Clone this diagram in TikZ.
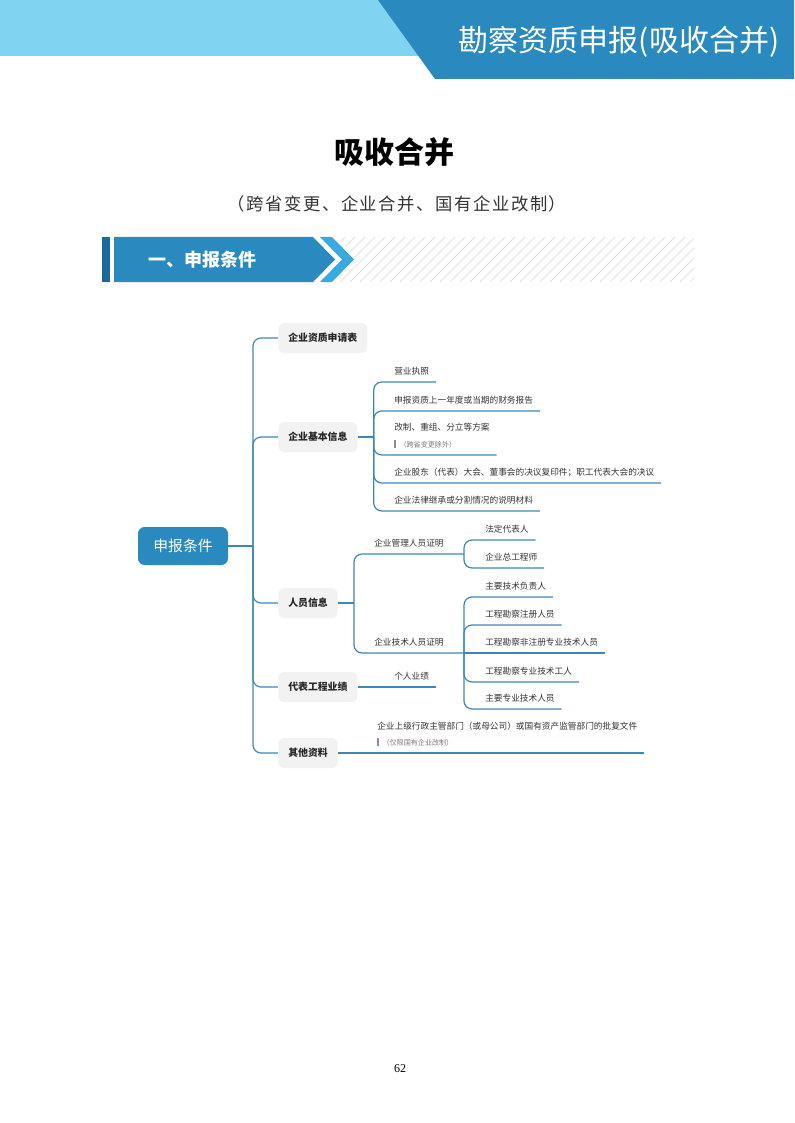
\documentclass[tikz,border=0pt]{standalone}
\usepackage{fontspec}
\setmainfont{Noto Sans CJK SC}
\newfontfamily\numfont{Liberation Serif}
\usetikzlibrary{positioning}
\definecolor{headlight}{HTML}{80D4F1}
\definecolor{headdark}{HTML}{2A8AC0}
\definecolor{barblue}{HTML}{1D6A9A}
\definecolor{chevblue}{HTML}{39AADF}
\definecolor{hatchgray}{HTML}{E2E2E2}
\definecolor{linkblue}{HTML}{3D87B8}
\definecolor{topicgray}{HTML}{F2F2F2}
\definecolor{notebar}{HTML}{8A8AB8}
\definecolor{notegray}{HTML}{7A7A7A}
\newcommand{\notetext}[1]{{\fontsize{5.3pt}{6pt}\selectfont\textcolor{notebar}{\rule[-1pt]{1pt}{6.5pt}}\hspace{3pt}\textcolor{notegray}{#1}}}

\begin{document}
\begin{tikzpicture}[x=0.75pt,y=-0.75pt,
    root node/.style={rounded corners=5pt,fill=headdark,text=white,font=\fontsize{11.1pt}{13pt}\selectfont,minimum width=67.5pt,minimum height=28.5pt},
    main node/.style={anchor=west,rounded corners=4.5pt,fill=topicgray,font=\bfseries\fontsize{7.4pt}{9pt}\selectfont,minimum height=22.5pt,inner xsep=7.5pt,text=black!85},
    leaf node/.style={anchor=south west,inner xsep=0pt,inner ysep=5.8pt,text depth=0pt,align=left,font=\fontsize{6.5pt}{8.8pt}\selectfont,text=black!80},
    link/.style={draw=linkblue,line width=0.9pt,rounded corners=6pt}]
  \useasboundingbox (0,0) rectangle (794,1123);
  % page header
  \fill[headlight] (0,0) rectangle (420,56);
  \fill[headdark] (378,0) -- (794,0) -- (794,79) -- (435,79) -- cycle;
  \node[text=white,font=\fontsize{22.5pt}{26pt}\selectfont] (head) at (619,42) {勘察资质申报(吸收合并)};
  \node[font=\bfseries\fontsize{22.5pt}{26pt}\selectfont] (title) at (394,152) {吸收合并};
  \node[font=\fontsize{13pt}{16pt}\selectfont\addfontfeature{LetterSpace=9},text=black!80] (subtitle) at (397,204) {（跨省变更、企业合并、国有企业改制）};
  % section banner
  \fill[barblue] (102,237) rectangle (110,282);
  \fill[headdark] (114,237) -- (313,237) -- (335,259.5) -- (313,282) -- (114,282) -- cycle;
  \fill[chevblue] (320,237) -- (332,237) -- (354,259.5) -- (332,282) -- (320,282) -- (342,259.5) -- cycle;
  \begin{scope}
    \clip (336,237) -- (694,237) -- (694,282) -- (336,282) -- (358,259.5) -- cycle;
    \foreach \i in {0,...,42}
      \draw[hatchgray,line width=0.75pt] (290+10*\i,282) -- ++(45,-45);
  \end{scope}
  \node[text=white,font=\bfseries\fontsize{13.5pt}{16pt}\selectfont,anchor=west] (sec) at (144,259.5) {一、申报条件};
  % mind map
  \node[root node] (root) at (183,546) {申报条件};
  \coordinate (spine) at (253,546);
  \node[main node] (t1) at (278,338) {企业资质申请表};
  \node[main node] (t2) at (278,437) {企业基本信息};
  \node[main node] (t3) at (278,603) {人员信息};
  \node[main node] (t4) at (278,687) {代表工程业绩};
  \node[main node] (t5) at (278,753) {其他资料};
  \coordinate[right=12pt of t2.east] (h2);
  \coordinate[right=12pt of t3.east] (h3);

  \node[leaf node] (a1) at (394,382) {营业执照};
  \node[leaf node] (a2) at (394,411) {申报资质上一年度或当期的财务报告};
  \node[leaf node] (a3) at (394,455) {改制、重组、分立等方案\\[3.5pt]\notetext{（跨省变更除外）}};
  \node[leaf node] (a4) at (394,483) {企业股东（代表）大会、董事会的决议复印件；职工代表大会的决议};
  \node[leaf node] (a5) at (394,511) {企业法律继承或分割情况的说明材料};

  \node[leaf node] (m1) at (374,554) {企业管理人员证明};
  \node[leaf node] (m2) at (374,653) {企业技术人员证明};
  \coordinate (h31) at (464,554);
  \coordinate (h32) at (464,653);
  \node[leaf node] (c1) at (485,540) {法定代表人};
  \node[leaf node] (c2) at (485,568) {企业总工程师};
  \node[leaf node] (c3) at (485,597) {主要技术负责人};
  \node[leaf node] (c4) at (485,625) {工程勘察注册人员};
  \node[leaf node] (c5) at (485,653) {工程勘察非注册专业技术人员};
  \node[leaf node] (c6) at (485,682) {工程勘察专业技术工人};
  \node[leaf node] (c7) at (485,709) {主要专业技术人员};

  \node[leaf node] (d1) at (394,687) {个人业绩};
  \node[leaf node] (e1) at (377,753) {企业上级行政主管部门（或母公司）或国有资产监管部门的批复文件\\[2.5pt]\notetext{（仅限国有企业改制）}};

  \draw[link] (root) -- (spine);
  \foreach \t in {t1,t2,t3,t4,t5}
    \draw[link] (spine) |- (\t.west);
  \draw[link] (t2) -- (h2);
  \draw[link] (t3) -- (h3);
  \foreach \l in {a1,a2,a3,a4,a5}
    \draw[link] (h2) |- (\l.south west) -- ([xshift=5pt]\l.south east);
  \draw[link] (h3) |- (m1.south west) -- (h31);
  \draw[link] (h3) |- (m2.south west) -- (h32);
  \foreach \l in {c1,c2}
    \draw[link] (h31) |- (\l.south west) -- ([xshift=5pt]\l.south east);
  \foreach \l in {c3,c4,c6,c7}
    \draw[link] (h32) |- (\l.south west) -- ([xshift=5pt]\l.south east);
  \draw[link] (h32) -- (c5.south west) -- ([xshift=5pt]c5.south east);
  \draw[link] (t4) -- (d1.south west) -- ([xshift=5pt]d1.south east);
  \draw[link] (t5) -- (e1.south west) -- ([xshift=5pt]e1.south east);

  \node[font=\numfont\fontsize{9pt}{11pt}\selectfont] (page) at (400,1069) {62};
\end{tikzpicture}
\end{document}
